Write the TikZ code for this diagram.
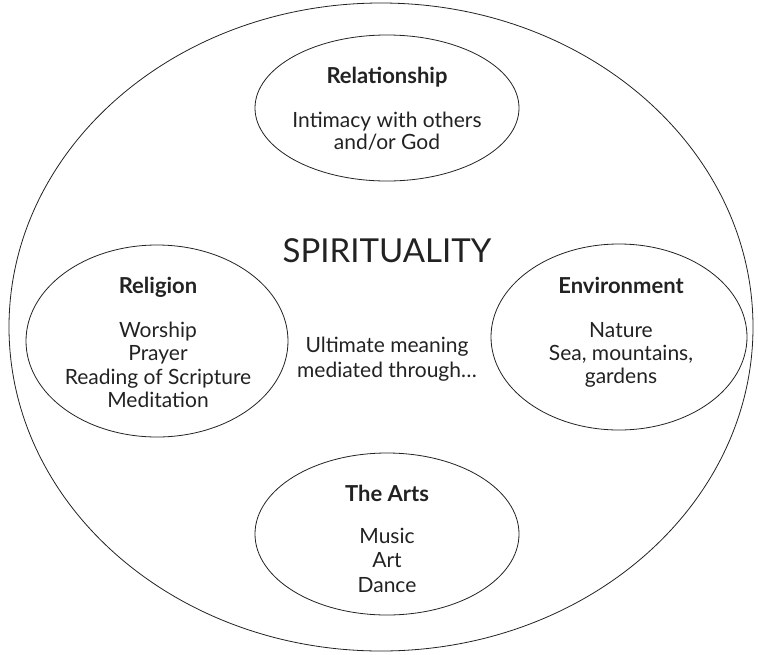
\documentclass[tikz,border=0pt]{standalone}
\usepackage{fontspec}
\setmainfont{Lato}
\usetikzlibrary{shapes.geometric}
\definecolor{ink}{HTML}{222222}
\begin{document}
\begin{tikzpicture}[x=1pt,y=-1pt,
  oval/.style={draw=ink,line width=0.8pt,ellipse,inner sep=0pt},
  head/.style={anchor=base,inner sep=0pt,text=ink,font=\fontsize{22}{26}\selectfont\bfseries},
  body/.style={anchor=base,inner sep=0pt,text=ink,font=\fontsize{21}{25}\selectfont},
  big/.style={anchor=base,inner sep=0pt,text=ink,font=\fontsize{33}{39}\selectfont}]
\useasboundingbox (0,0) rectangle (758,654);
% outer ellipse
\node[oval,minimum width=744pt,minimum height=648pt] (spir) at (381,327) {};
% inner ellipses
\node[oval,minimum width=264pt,minimum height=146pt] (rel) at (387,108) {};
\node[oval,minimum width=262pt,minimum height=192pt] (relig) at (157,341) {};
\node[oval,minimum width=256pt,minimum height=186pt] (env) at (619,337) {};
\node[oval,minimum width=264pt,minimum height=162pt] (arts) at (387,534) {};
% centre texts
\node[big] (spirt) at (387,262) {SPIRITUALITY};
\node[body] (ult1) at (387,352) {Ultimate meaning};
\node[body] (ult2) at (387,377) {mediated through\dots};
% Relationship
\node[head] (relt) at (387,83) {Relationship};
\node[body] (rel1) at (387,127) {Intimacy with others};
\node[body] (rel2) at (387,149) {and/or God};
% Religion
\node[head] (religt) at (158,293) {Religion};
\node[body] (relig1) at (158,337) {Worship};
\node[body] (relig2) at (158,360) {Prayer};
\node[body] (relig3) at (158,384) {Reading of Scripture};
\node[body] (relig4) at (158,407) {Meditation};
% Environment
\node[head] (envt) at (621,293) {Environment};
\node[body] (env1) at (621,337) {Nature};
\node[body] (env2) at (621,360) {Sea, mountains,};
\node[body] (env3) at (621,383) {gardens};
% The Arts
\node[head] (artst) at (387,501) {The Arts};
\node[body] (arts1) at (387,543) {Music};
\node[body] (arts2) at (387,567) {Art};
\node[body] (arts3) at (387,592) {Dance};
\end{tikzpicture}
\end{document}
